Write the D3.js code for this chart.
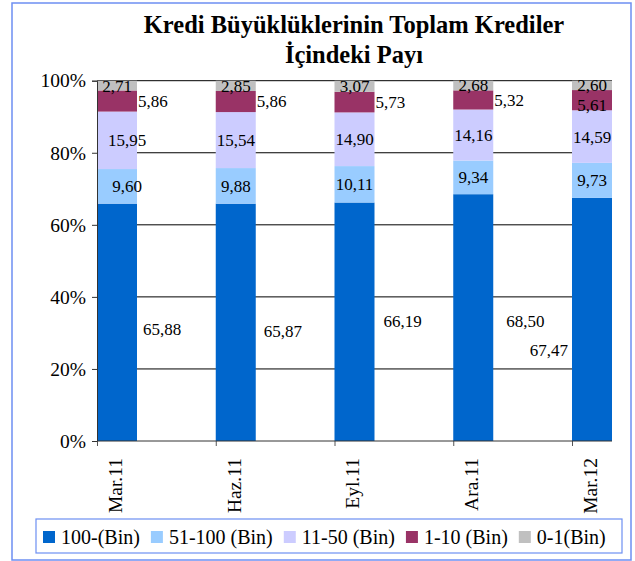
<!DOCTYPE html>
<html>
<head>
<meta charset="utf-8">
<script src="https://cdnjs.cloudflare.com/ajax/libs/d3/7.8.5/d3.min.js"></script>
<style>
  body { margin: 0; background: #fff; }
  svg text { font-family: "Liberation Serif", "Times New Roman", serif; fill: #000; }
</style>
</head>
<body>
<div id="chart"></div>
<script>
// categories (quarters)
var categories = ["Mar.11", "Haz.11", "Eyl.11", "Ara.11", "Mar.12"];

// series, bottom to top of the stack
var seriesNames = ["100-(Bin)", "51-100 (Bin)", "11-50 (Bin)", "1-10 (Bin)", "0-1(Bin)"];
var big      = [65.88, 65.87, 66.19, 68.50, 67.47];   // 100-(Bin)
var mid      = [9.60, 9.88, 10.11, 9.34, 9.73];       // 51-100 (Bin)
var small    = [15.95, 15.54, 14.90, 14.16, 14.59];   // 11-50 (Bin)
var smaller  = [5.86, 5.86, 5.73, 5.32, 5.61];        // 1-10 (Bin)
var tiny     = [2.71, 2.85, 3.07, 2.68, 2.60];        // 0-1(Bin)

var yTicks = [0, 20, 40, 60, 80, 100];

var colors = ["#0066CC", "#99CCFF", "#CCCCFF", "#993366", "#C0C0C0"];

// labels of the big series were dragged by hand in the original
var bigLabelNudge = [[6, 7], [8, 9], [9, -1], [13, 3], [-4, 31]];

var anchorElement = "#chart";
var W = 635, H = 561;

var plot = { left: 97, right: 612, top: 80.7, bottom: 441 };
var barWidth = 40;

function buildRows() {
    var values = [big, mid, small, smaller, tiny];
    return categories.map(function(c, i) {
        var row = { cat: c, i: i };
        seriesNames.forEach(function(s, k) { row[s] = values[k][i]; });
        return row;
    });
}

function chart() {
    var svg = d3.select(anchorElement).append("svg")
        .attr("width", W)
        .attr("height", H);

    // outer border
    svg.append("rect")
        .attr("x", 12).attr("y", 3)
        .attr("width", 619).attr("height", 557)
        .style("fill", "none")
        .style("stroke", "#6d8ff2")
        .style("stroke-width", 1.5);

    // title
    var title = svg.append("text")
        .attr("text-anchor", "middle")
        .style("font-weight", "bold")
        .style("font-size", "24.5px");
    title.append("tspan").attr("x", 354).attr("y", 33).text("Kredi Büyüklüklerinin Toplam Krediler");
    title.append("tspan").attr("x", 354).attr("y", 63).text("İçindeki Payı");

    var x = d3.scalePoint()
        .domain(categories)
        .range([plot.left, plot.right - barWidth]);

    var y = d3.scaleLinear()
        .domain([0, 100])
        .range([plot.bottom, plot.top]);

    // gridlines
    svg.append("g").selectAll("line")
        .data(yTicks.filter(function(t) { return t > 0; }))
      .enter().append("line")
        .attr("x1", plot.left).attr("x2", plot.right)
        .attr("y1", function(d) { return y(d); })
        .attr("y2", function(d) { return y(d); })
        .style("stroke", "#000")
        .style("stroke-width", 1);

    var rows = buildRows();
    var stacked = d3.stack().keys(seriesNames)(rows);

    var layers = svg.append("g").selectAll("g")
        .data(stacked)
      .enter().append("g")
        .style("fill", function(d, k) { return colors[k]; });

    layers.selectAll("rect")
        .data(function(d) { return d; })
      .enter().append("rect")
        .attr("x", function(d) { return x(d.data.cat); })
        .attr("y", function(d) { return y(d[1]); })
        .attr("width", barWidth)
        .attr("height", function(d) { return y(d[0]) - y(d[1]); });

    // y axis
    var yAxis = d3.axisLeft(y)
        .tickValues(yTicks)
        .tickFormat(function(d) { return d + "%"; })
        .tickSize(5)
        .tickPadding(6);
    var gy = svg.append("g")
        .attr("transform", "translate(" + plot.left + ",0)")
        .call(yAxis)
        .attr("font-family", null)
        .attr("font-size", null);
    gy.select(".domain").style("stroke", "#333");
    gy.selectAll(".tick line").style("stroke", "#333");
    gy.selectAll("text")
        .style("font-size", "19.5px")
        .style("font-family", "'Liberation Serif', serif");

    // x axis: ticks at bar left edges
    var xAxis = d3.axisBottom(x).tickSize(5).tickFormat("");
    var gx = svg.append("g")
        .attr("transform", "translate(0," + plot.bottom + ")")
        .call(xAxis);
    gx.select(".domain").remove();
    gx.append("line")
        .attr("x1", plot.left).attr("x2", plot.right)
        .style("stroke", "#333");
    gx.selectAll(".tick line").style("stroke", "#555");

    svg.append("g").selectAll("text")
        .data(categories)
      .enter().append("text")
        .attr("transform", function(d) {
            return "translate(" + (x(d) + barWidth / 2 - 2) + "," + (plot.bottom + 17) + ") rotate(-90)";
        })
        .attr("text-anchor", "end")
        .attr("dy", "0.35em")
        .style("font-size", "19.5px")
        .text(function(d) { return d; });

    // data labels
    var fmt = function(v) { return v.toFixed(2).replace(".", ","); };
    var labels = svg.append("g").style("font-size", "17px");

    stacked.forEach(function(layer, k) {
        layer.forEach(function(d, i) {
            var bx = x(d.data.cat);
            var cy = y((d[0] + d[1]) / 2);
            var tx = bx + barWidth / 2, anchor = "middle", dy = 0;
            if (k === 0) {
                var n = bigLabelNudge[i];
                if (i < categories.length - 1) { tx = bx + barWidth + n[0]; anchor = "start"; }
                else { tx = bx + n[0]; anchor = "end"; }
                dy = n[1];
            } else if (k === 1 || k === 2) {
                if (i === 0) tx += 10;
            } else if (k === 3) {
                if (i < categories.length - 1) { tx = bx + barWidth + 1; anchor = "start"; }
                else dy = 5;
            }
            labels.append("text")
                .attr("x", tx)
                .attr("y", cy + dy)
                .attr("dy", "0.35em")
                .attr("text-anchor", anchor)
                .text(fmt(d.data[layer.key]));
        });
    });

    // legend
    var legend = svg.append("g");
    legend.append("rect")
        .attr("x", 36).attr("y", 519)
        .attr("width", 586).attr("height", 34)
        .style("fill", "#fff")
        .style("stroke", "#6d8ff2")
        .style("stroke-width", 1.2);

    var lx = 43;
    seriesNames.forEach(function(s, k) {
        legend.append("rect")
            .attr("x", lx).attr("y", 531)
            .attr("width", 12).attr("height", 12)
            .style("fill", colors[k]);
        var t = legend.append("text")
            .attr("x", lx + 18).attr("y", 537)
            .attr("dy", "0.35em")
            .style("font-size", "20px")
            .text(s);
        lx += 18 + t.node().getComputedTextLength() + 11;
    });
}

// Starts here
chart();
</script>
</body>
</html>
